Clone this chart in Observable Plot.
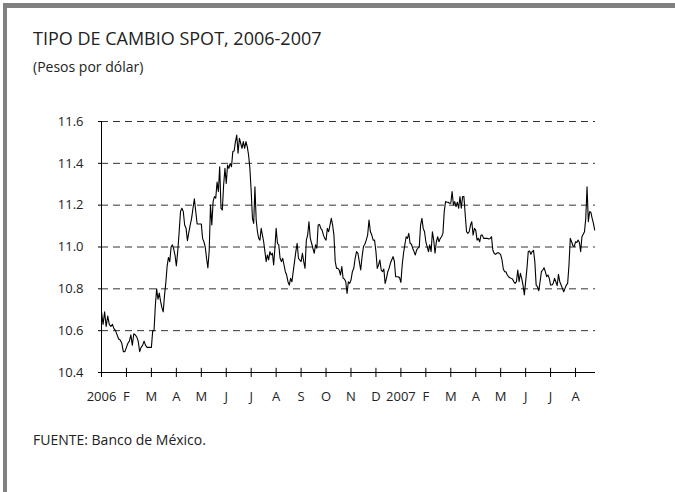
<!DOCTYPE html>
<html>
<head>
<meta charset="utf-8">
<script src="https://cdn.jsdelivr.net/npm/d3@7"></script>
<script src="https://cdn.jsdelivr.net/npm/@observablehq/plot@0.6"></script>
<style>
  html, body { margin: 0; padding: 0; background: #fff; }
  #wrap { position: relative; width: 675px; height: 492px; overflow: hidden; font-family: "Open Sans", sans-serif; color: #222; }
  #frame { position: absolute; left: 3px; top: 3px; right: -10px; bottom: -10px; border-top: 5px solid #808080; border-left: 4px solid #808080; }
  #title { position: absolute; left: 33px; top: 27px; font-size: 18px; line-height: 22px; white-space: nowrap; }
  #subtitle { position: absolute; left: 33px; top: 58px; font-size: 14px; line-height: 18px; white-space: nowrap; }
  #chart { position: absolute; left: 0; top: 100px; }
  #source { position: absolute; left: 33px; top: 431px; font-size: 14px; line-height: 18px; white-space: nowrap; }
</style>
</head>
<body>
<div id="wrap">
  <div id="frame"></div>
  <div id="title">TIPO DE CAMBIO SPOT, 2006-2007</div>
  <div id="subtitle">(Pesos por dólar)</div>
  <div id="chart"></div>
  <div id="source">FUENTE: Banco de México.</div>
</div>
<script>
// Tick labels (one per month start)
const etiquetasMes = ["2006","F","M","A","M","J","J","A","S","O","N","D","2007","F","M","A","M","J","J","A"];
const ticksY = [10.4, 10.6, 10.8, 11.0, 11.2, 11.4, 11.6];

// Spot exchange rate readings, pesos per dollar, month by month
const ene06 = [10.69,10.63,10.69,10.62,10.67,10.63,10.62,10.63,10.61,10.60,10.58,10.56,10.555,10.54,10.50,10.50];
const feb06 = [10.52,10.54,10.55,10.58,10.53,10.585,10.58,10.57,10.55,10.50,10.52,10.53,10.55,10.53,10.52,10.52,10.52];
const mar06 = [10.52,10.60,10.60,10.72,10.80,10.75,10.78,10.74,10.71,10.69,10.77,10.83,10.91,10.95,10.93,11.00,11.01,10.99,10.96];
const abr06 = [10.91,10.98,11.07,11.17,11.185,11.17,11.105,11.09,11.03,11.07,11.105,11.137,11.185,11.23,11.17,11.11,11.11,11.11];
const may06 = [11.11,11.04,11.025,11.00,10.946,10.90,10.98,11.20,11.105,11.217,11.241,11.233,11.31,11.265,11.384,11.185,11.177,11.296,11.376];
const jun06 = [11.304,11.392,11.376,11.40,11.384,11.456,11.459,11.504,11.535,11.448,11.52,11.496,11.472,11.504,11.472,11.504,11.48,11.44,11.376];
const jul06 = [11.265,11.137,11.113,11.288,11.129,11.073,11.041,11.033,11.089,11.057,11.025,10.978,10.93,10.962,10.938,10.978,10.962,10.97,10.914,10.994];
const ago06 = [11.089,11.018,11.010,10.946,10.93,10.946,10.914,10.882,10.866,10.834,10.818,10.85,10.834,10.882,10.93,10.978,11.018,10.946,10.938];
const sep06 = [10.93,10.97,10.93,10.898,11.033,11.057,11.121,11.041,11.018,10.994,10.97,11.01,10.994,11.105,11.108,11.089,11.081,11.057,11.041];
const oct06 = [11.033,11.089,11.073,11.105,11.137,11.105,11.057,10.93,10.898,10.898,10.89,10.866,10.906,10.85,10.847,10.834,10.778,10.834,10.826];
const nov06 = [10.842,10.882,10.898,10.946,10.978,10.97,10.93,10.89,10.954,11.002,11.013,11.033,11.057,11.129,11.073,11.057,11.033,11.033];
const dic06 = [10.978,10.898,10.914,10.938,10.89,10.882,10.895,10.826,10.85,10.882,10.898,10.922,10.938,10.954,10.933,10.858,10.858,10.858,10.853];
const ene07 = [10.831,10.914,10.97,11.01,11.049,11.041,11.065,11.018,11.013,10.994,10.978,10.962,10.986,10.994,11.002,11.105,11.137,11.089,11.073];
const feb07 = [11.025,11.002,10.978,11.010,10.978,11.073,11.033,10.97,11.025,11.049,11.025,11.041,11.049,11.065,11.169,11.217,11.214,11.214,11.209];
const mar07 = [11.209,11.265,11.201,11.217,11.193,11.214,11.185,11.241,11.185,11.241,11.241,11.153,11.073,11.065,11.073,11.105,11.121,11.057,11.089];
const abr07 = [11.081,11.033,11.041,11.025,11.057,11.057,11.041,11.041,11.041,11.041,11.038,11.041,11.049,10.986,10.970,10.965,10.970,10.973,10.970];
const may07 = [10.962,10.938,10.895,10.882,10.882,10.866,10.858,10.853,10.85,10.847,10.834,10.826,10.834,10.89,10.834,10.874,10.85,10.818,10.771];
const jun07 = [10.834,10.898,10.978,10.981,10.965,10.978,10.984,10.93,10.818,10.81,10.791,10.834,10.882,10.89,10.901,10.882,10.858,10.866,10.85];
const jul07 = [10.818,10.818,10.826,10.85,10.834,10.815,10.869,10.834,10.818,10.802,10.786,10.802,10.818,10.826,10.914,11.041,11.025,11.006,11.002];
const ago07 = [11.025,11.022,11.033,11.022,10.978,11.049,11.061,11.073,11.137,11.288,11.121,11.169,11.166,11.137,11.113,11.081];

const meses = [ene06,feb06,mar06,abr06,may06,jun06,jul06,ago06,sep06,oct06,nov06,dic06,
               ene07,feb07,mar07,abr07,may07,jun07,jul07,ago07];
// share of each month covered by the data (last month is partial)
const cobertura = meses.map((m, i) => i === meses.length - 1 ? 0.82 : 1);

const datos = [];
meses.forEach((vals, m) => {
  vals.forEach((v, i) => datos.push({x: m + (i / vals.length) * cobertura[m], v}));
});
const idxTicks = etiquetasMes.map((_, i) => i);

const chart = Plot.plot({
  width: 675,
  height: 320,
  marginTop: 21,
  marginBottom: 48,
  marginLeft: 101,
  marginRight: 80,
  style: {fontFamily: "Open Sans, sans-serif", fontSize: "13px", color: "#222", background: "transparent"},
  x: {type: "linear", domain: [0, 19.8]},
  y: {domain: [10.4, 11.6]},
  marks: [
    Plot.ruleY(ticksY.filter(d => d > 10.4), {stroke: "#333", strokeWidth: 1, strokeDasharray: "7,5"}),
    Plot.line(datos, {x: "x", y: "v", stroke: "#000", strokeWidth: 1.1}),
    Plot.ruleY([10.4], {stroke: "#000", strokeWidth: 1}),
    Plot.ruleX([0], {stroke: "#000", strokeWidth: 1}),
    Plot.ruleX(idxTicks, {x: d => d, y1: 10.4, y2: 10.42, stroke: "#000", strokeWidth: 1}),
    Plot.axisY({ticks: ticksY, tickSize: 3, tickPadding: 15, tickFormat: d => d.toFixed(1), label: null, stroke: "#000"}),
    Plot.axisX({ticks: idxTicks, tickSize: 5, tickPadding: 14, tickFormat: i => etiquetasMes[i], label: null, stroke: "#000"})
  ]
});
document.getElementById("chart").appendChild(chart);
</script>
</body>
</html>
